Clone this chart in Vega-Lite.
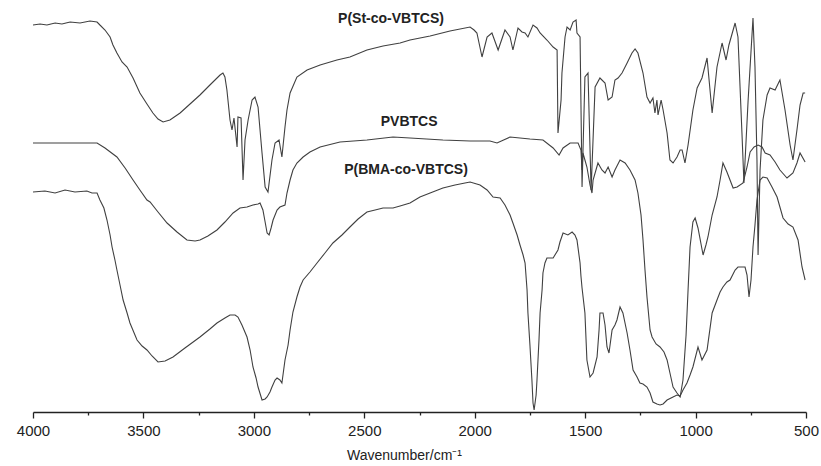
{
"$schema": "https://vega.github.io/schema/vega-lite/v6.json",
"width": 773, "height": 412,
"autosize": {"type": "none"},
"padding": {"left": 33, "top": 0, "right": 15, "bottom": 54},
"background": "white",
"config": {"view": {"stroke": null}},
"datasets": {
"spectra": [
{"s":"St","w":4000,"t":387},{"s":"St","w":3968,"t":388},{"s":"St","w":3937,"t":387},{"s":"St","w":3900,"t":389},{"s":"St","w":3869,"t":388},{"s":"St","w":3832,"t":390},{"s":"St","w":3787,"t":389},{"s":"St","w":3742,"t":391},{"s":"St","w":3710,"t":390},{"s":"St","w":3697,"t":387},{"s":"St","w":3674,"t":382},{"s":"St","w":3651,"t":375},{"s":"St","w":3638,"t":367},{"s":"St","w":3620,"t":359},{"s":"St","w":3597,"t":350},{"s":"St","w":3574,"t":345},{"s":"St","w":3547,"t":334},{"s":"St","w":3516,"t":319},{"s":"St","w":3484,"t":308},{"s":"St","w":3457,"t":299},{"s":"St","w":3434,"t":293},{"s":"St","w":3411,"t":290},{"s":"St","w":3380,"t":292},{"s":"St","w":3334,"t":299},{"s":"St","w":3289,"t":308},{"s":"St","w":3244,"t":317},{"s":"St","w":3199,"t":327},{"s":"St","w":3153,"t":337},{"s":"St","w":3140,"t":339},{"s":"St","w":3131,"t":335},{"s":"St","w":3122,"t":322},{"s":"St","w":3108,"t":292},{"s":"St","w":3099,"t":282},{"s":"St","w":3090,"t":294},{"s":"St","w":3076,"t":265},{"s":"St","w":3072,"t":295},{"s":"St","w":3058,"t":294},{"s":"St","w":3049,"t":232},{"s":"St","w":3040,"t":272},{"s":"St","w":3026,"t":292},{"s":"St","w":3008,"t":312},{"s":"St","w":2995,"t":315},{"s":"St","w":2981,"t":305},{"s":"St","w":2963,"t":259},{"s":"St","w":2949,"t":225},{"s":"St","w":2936,"t":220},{"s":"St","w":2918,"t":252},{"s":"St","w":2904,"t":269},{"s":"St","w":2886,"t":272},{"s":"St","w":2873,"t":255},{"s":"St","w":2859,"t":285},{"s":"St","w":2850,"t":302},{"s":"St","w":2836,"t":319},{"s":"St","w":2805,"t":335},{"s":"St","w":2759,"t":342},{"s":"St","w":2700,"t":347},{"s":"St","w":2624,"t":352},{"s":"St","w":2565,"t":355},{"s":"St","w":2488,"t":362},{"s":"St","w":2415,"t":366},{"s":"St","w":2338,"t":369},{"s":"St","w":2293,"t":372},{"s":"St","w":2202,"t":376},{"s":"St","w":2112,"t":381},{"s":"St","w":2021,"t":385},{"s":"St","w":2003,"t":382},{"s":"St","w":1990,"t":379},{"s":"St","w":1967,"t":355},{"s":"St","w":1944,"t":375},{"s":"St","w":1922,"t":379},{"s":"St","w":1894,"t":362},{"s":"St","w":1863,"t":382},{"s":"St","w":1840,"t":375},{"s":"St","w":1827,"t":362},{"s":"St","w":1804,"t":384},{"s":"St","w":1786,"t":380},{"s":"St","w":1772,"t":379},{"s":"St","w":1759,"t":375},{"s":"St","w":1736,"t":387},{"s":"St","w":1718,"t":384},{"s":"St","w":1704,"t":379},{"s":"St","w":1673,"t":372},{"s":"St","w":1645,"t":365},{"s":"St","w":1627,"t":362},{"s":"St","w":1623,"t":279},{"s":"St","w":1609,"t":312},{"s":"St","w":1605,"t":339},{"s":"St","w":1591,"t":375},{"s":"St","w":1582,"t":385},{"s":"St","w":1568,"t":382},{"s":"St","w":1555,"t":390},{"s":"St","w":1541,"t":392},{"s":"St","w":1537,"t":379},{"s":"St","w":1523,"t":375},{"s":"St","w":1514,"t":225},{"s":"St","w":1501,"t":335},{"s":"St","w":1487,"t":339},{"s":"St","w":1473,"t":222},{"s":"St","w":1455,"t":325},{"s":"St","w":1433,"t":334},{"s":"St","w":1410,"t":329},{"s":"St","w":1396,"t":312},{"s":"St","w":1378,"t":315},{"s":"St","w":1365,"t":332},{"s":"St","w":1351,"t":334},{"s":"St","w":1333,"t":339},{"s":"St","w":1310,"t":349},{"s":"St","w":1288,"t":359},{"s":"St","w":1274,"t":363},{"s":"St","w":1261,"t":359},{"s":"St","w":1238,"t":339},{"s":"St","w":1220,"t":315},{"s":"St","w":1206,"t":309},{"s":"St","w":1193,"t":314},{"s":"St","w":1184,"t":299},{"s":"St","w":1175,"t":312},{"s":"St","w":1170,"t":297},{"s":"St","w":1156,"t":312},{"s":"St","w":1147,"t":302},{"s":"St","w":1129,"t":279},{"s":"St","w":1116,"t":252},{"s":"St","w":1102,"t":249},{"s":"St","w":1084,"t":255},{"s":"St","w":1070,"t":262},{"s":"St","w":1061,"t":262},{"s":"St","w":1048,"t":249},{"s":"St","w":1034,"t":267},{"s":"St","w":1012,"t":302},{"s":"St","w":993,"t":324},{"s":"St","w":971,"t":334},{"s":"St","w":948,"t":354},{"s":"St","w":925,"t":299},{"s":"St","w":903,"t":345},{"s":"St","w":880,"t":369},{"s":"St","w":862,"t":352},{"s":"St","w":849,"t":367},{"s":"St","w":821,"t":389},{"s":"St","w":808,"t":375},{"s":"St","w":790,"t":279},{"s":"St","w":781,"t":229},{"s":"St","w":762,"t":312},{"s":"St","w":740,"t":394},{"s":"St","w":731,"t":345},{"s":"St","w":722,"t":252},{"s":"St","w":717,"t":157},{"s":"St","w":708,"t":242},{"s":"St","w":695,"t":292},{"s":"St","w":676,"t":317},{"s":"St","w":663,"t":324},{"s":"St","w":640,"t":322},{"s":"St","w":618,"t":332},{"s":"St","w":595,"t":302},{"s":"St","w":572,"t":267},{"s":"St","w":559,"t":252},{"s":"St","w":541,"t":282},{"s":"St","w":527,"t":307},{"s":"St","w":513,"t":319},{"s":"St","w":504,"t":319},
{"s":"PV","w":4000,"t":269},{"s":"PV","w":3878,"t":269},{"s":"PV","w":3787,"t":269},{"s":"PV","w":3710,"t":269},{"s":"PV","w":3674,"t":264},{"s":"PV","w":3620,"t":255},{"s":"PV","w":3583,"t":244},{"s":"PV","w":3547,"t":232},{"s":"PV","w":3516,"t":222},{"s":"PV","w":3484,"t":212},{"s":"PV","w":3470,"t":210},{"s":"PV","w":3434,"t":200},{"s":"PV","w":3393,"t":189},{"s":"PV","w":3348,"t":180},{"s":"PV","w":3303,"t":172},{"s":"PV","w":3266,"t":171},{"s":"PV","w":3244,"t":172},{"s":"PV","w":3208,"t":176},{"s":"PV","w":3167,"t":182},{"s":"PV","w":3131,"t":190},{"s":"PV","w":3094,"t":199},{"s":"PV","w":3063,"t":204},{"s":"PV","w":3031,"t":205},{"s":"PV","w":3004,"t":207},{"s":"PV","w":2981,"t":208},{"s":"PV","w":2972,"t":209},{"s":"PV","w":2959,"t":202},{"s":"PV","w":2949,"t":190},{"s":"PV","w":2940,"t":179},{"s":"PV","w":2931,"t":177},{"s":"PV","w":2922,"t":184},{"s":"PV","w":2913,"t":192},{"s":"PV","w":2895,"t":202},{"s":"PV","w":2882,"t":205},{"s":"PV","w":2859,"t":207},{"s":"PV","w":2850,"t":219},{"s":"PV","w":2836,"t":232},{"s":"PV","w":2823,"t":242},{"s":"PV","w":2805,"t":249},{"s":"PV","w":2777,"t":255},{"s":"PV","w":2746,"t":260},{"s":"PV","w":2700,"t":265},{"s":"PV","w":2610,"t":270},{"s":"PV","w":2488,"t":272},{"s":"PV","w":2370,"t":275},{"s":"PV","w":2293,"t":274},{"s":"PV","w":2144,"t":272},{"s":"PV","w":2021,"t":271},{"s":"PV","w":1931,"t":271},{"s":"PV","w":1899,"t":269},{"s":"PV","w":1840,"t":275},{"s":"PV","w":1750,"t":273},{"s":"PV","w":1691,"t":272},{"s":"PV","w":1645,"t":264},{"s":"PV","w":1618,"t":257},{"s":"PV","w":1600,"t":264},{"s":"PV","w":1568,"t":269},{"s":"PV","w":1532,"t":269},{"s":"PV","w":1519,"t":262},{"s":"PV","w":1514,"t":242},{"s":"PV","w":1510,"t":259},{"s":"PV","w":1501,"t":252},{"s":"PV","w":1492,"t":245},{"s":"PV","w":1478,"t":227},{"s":"PV","w":1469,"t":219},{"s":"PV","w":1464,"t":232},{"s":"PV","w":1442,"t":249},{"s":"PV","w":1424,"t":242},{"s":"PV","w":1410,"t":239},{"s":"PV","w":1396,"t":245},{"s":"PV","w":1378,"t":235},{"s":"PV","w":1365,"t":242},{"s":"PV","w":1342,"t":252},{"s":"PV","w":1319,"t":249},{"s":"PV","w":1297,"t":242},{"s":"PV","w":1274,"t":232},{"s":"PV","w":1261,"t":219},{"s":"PV","w":1247,"t":197},{"s":"PV","w":1238,"t":172},{"s":"PV","w":1229,"t":142},{"s":"PV","w":1220,"t":115},{"s":"PV","w":1206,"t":82},{"s":"PV","w":1197,"t":75},{"s":"PV","w":1179,"t":68},{"s":"PV","w":1161,"t":65},{"s":"PV","w":1143,"t":60},{"s":"PV","w":1129,"t":52},{"s":"PV","w":1116,"t":39},{"s":"PV","w":1102,"t":25},{"s":"PV","w":1084,"t":19},{"s":"PV","w":1070,"t":15},{"s":"PV","w":1057,"t":32},{"s":"PV","w":1043,"t":77},{"s":"PV","w":1034,"t":122},{"s":"PV","w":1025,"t":165},{"s":"PV","w":1012,"t":190},{"s":"PV","w":1002,"t":194},{"s":"PV","w":989,"t":184},{"s":"PV","w":966,"t":157},{"s":"PV","w":953,"t":167},{"s":"PV","w":944,"t":175},{"s":"PV","w":925,"t":197},{"s":"PV","w":903,"t":215},{"s":"PV","w":889,"t":232},{"s":"PV","w":876,"t":249},{"s":"PV","w":858,"t":240},{"s":"PV","w":830,"t":224},{"s":"PV","w":812,"t":225},{"s":"PV","w":785,"t":229},{"s":"PV","w":767,"t":245},{"s":"PV","w":753,"t":260},{"s":"PV","w":735,"t":265},{"s":"PV","w":717,"t":267},{"s":"PV","w":699,"t":265},{"s":"PV","w":685,"t":259},{"s":"PV","w":663,"t":257},{"s":"PV","w":640,"t":250},{"s":"PV","w":618,"t":242},{"s":"PV","w":586,"t":234},{"s":"PV","w":559,"t":239},{"s":"PV","w":541,"t":249},{"s":"PV","w":527,"t":259},{"s":"PV","w":504,"t":250},
{"s":"BMA","w":4000,"t":220},{"s":"BMA","w":3946,"t":221},{"s":"BMA","w":3900,"t":219},{"s":"BMA","w":3855,"t":222},{"s":"BMA","w":3810,"t":220},{"s":"BMA","w":3756,"t":221},{"s":"BMA","w":3733,"t":219},{"s":"BMA","w":3710,"t":219},{"s":"BMA","w":3697,"t":212},{"s":"BMA","w":3679,"t":204},{"s":"BMA","w":3665,"t":192},{"s":"BMA","w":3651,"t":177},{"s":"BMA","w":3642,"t":165},{"s":"BMA","w":3629,"t":152},{"s":"BMA","w":3620,"t":142},{"s":"BMA","w":3606,"t":127},{"s":"BMA","w":3592,"t":112},{"s":"BMA","w":3574,"t":99},{"s":"BMA","w":3561,"t":89},{"s":"BMA","w":3529,"t":72},{"s":"BMA","w":3506,"t":66},{"s":"BMA","w":3484,"t":62},{"s":"BMA","w":3461,"t":56},{"s":"BMA","w":3434,"t":50},{"s":"BMA","w":3402,"t":51},{"s":"BMA","w":3366,"t":55},{"s":"BMA","w":3312,"t":64},{"s":"BMA","w":3244,"t":75},{"s":"BMA","w":3199,"t":83},{"s":"BMA","w":3167,"t":89},{"s":"BMA","w":3131,"t":94},{"s":"BMA","w":3108,"t":97},{"s":"BMA","w":3085,"t":97},{"s":"BMA","w":3072,"t":95},{"s":"BMA","w":3054,"t":87},{"s":"BMA","w":3031,"t":75},{"s":"BMA","w":3017,"t":62},{"s":"BMA","w":3004,"t":45},{"s":"BMA","w":2990,"t":34},{"s":"BMA","w":2981,"t":25},{"s":"BMA","w":2963,"t":12},{"s":"BMA","w":2949,"t":13},{"s":"BMA","w":2940,"t":15},{"s":"BMA","w":2927,"t":20},{"s":"BMA","w":2918,"t":25},{"s":"BMA","w":2904,"t":32},{"s":"BMA","w":2895,"t":34},{"s":"BMA","w":2882,"t":32},{"s":"BMA","w":2873,"t":29},{"s":"BMA","w":2859,"t":52},{"s":"BMA","w":2845,"t":67},{"s":"BMA","w":2836,"t":82},{"s":"BMA","w":2823,"t":100},{"s":"BMA","w":2805,"t":115},{"s":"BMA","w":2791,"t":125},{"s":"BMA","w":2777,"t":132},{"s":"BMA","w":2746,"t":140},{"s":"BMA","w":2714,"t":149},{"s":"BMA","w":2678,"t":159},{"s":"BMA","w":2642,"t":169},{"s":"BMA","w":2601,"t":177},{"s":"BMA","w":2565,"t":185},{"s":"BMA","w":2528,"t":193},{"s":"BMA","w":2488,"t":200},{"s":"BMA","w":2451,"t":202},{"s":"BMA","w":2415,"t":204},{"s":"BMA","w":2370,"t":204},{"s":"BMA","w":2338,"t":206},{"s":"BMA","w":2293,"t":209},{"s":"BMA","w":2248,"t":215},{"s":"BMA","w":2202,"t":219},{"s":"BMA","w":2144,"t":224},{"s":"BMA","w":2089,"t":227},{"s":"BMA","w":2044,"t":229},{"s":"BMA","w":2021,"t":230},{"s":"BMA","w":1976,"t":227},{"s":"BMA","w":1944,"t":222},{"s":"BMA","w":1917,"t":215},{"s":"BMA","w":1885,"t":214},{"s":"BMA","w":1863,"t":207},{"s":"BMA","w":1840,"t":197},{"s":"BMA","w":1827,"t":189},{"s":"BMA","w":1808,"t":177},{"s":"BMA","w":1795,"t":167},{"s":"BMA","w":1781,"t":157},{"s":"BMA","w":1772,"t":149},{"s":"BMA","w":1763,"t":122},{"s":"BMA","w":1759,"t":99},{"s":"BMA","w":1750,"t":67},{"s":"BMA","w":1741,"t":32},{"s":"BMA","w":1736,"t":9},{"s":"BMA","w":1731,"t":2},{"s":"BMA","w":1722,"t":17},{"s":"BMA","w":1718,"t":32},{"s":"BMA","w":1709,"t":72},{"s":"BMA","w":1704,"t":99},{"s":"BMA","w":1695,"t":122},{"s":"BMA","w":1691,"t":139},{"s":"BMA","w":1682,"t":149},{"s":"BMA","w":1673,"t":154},{"s":"BMA","w":1645,"t":154},{"s":"BMA","w":1623,"t":162},{"s":"BMA","w":1614,"t":170},{"s":"BMA","w":1600,"t":179},{"s":"BMA","w":1578,"t":177},{"s":"BMA","w":1559,"t":180},{"s":"BMA","w":1546,"t":177},{"s":"BMA","w":1537,"t":172},{"s":"BMA","w":1523,"t":149},{"s":"BMA","w":1519,"t":136},{"s":"BMA","w":1514,"t":124},{"s":"BMA","w":1501,"t":99},{"s":"BMA","w":1492,"t":52},{"s":"BMA","w":1478,"t":35},{"s":"BMA","w":1464,"t":39},{"s":"BMA","w":1446,"t":55},{"s":"BMA","w":1437,"t":82},{"s":"BMA","w":1433,"t":99},{"s":"BMA","w":1419,"t":99},{"s":"BMA","w":1410,"t":87},{"s":"BMA","w":1401,"t":65},{"s":"BMA","w":1392,"t":59},{"s":"BMA","w":1378,"t":82},{"s":"BMA","w":1365,"t":87},{"s":"BMA","w":1356,"t":92},{"s":"BMA","w":1342,"t":105},{"s":"BMA","w":1329,"t":99},{"s":"BMA","w":1310,"t":79},{"s":"BMA","w":1297,"t":62},{"s":"BMA","w":1283,"t":42},{"s":"BMA","w":1265,"t":35},{"s":"BMA","w":1252,"t":29},{"s":"BMA","w":1238,"t":28},{"s":"BMA","w":1220,"t":25},{"s":"BMA","w":1206,"t":19},{"s":"BMA","w":1193,"t":10},{"s":"BMA","w":1175,"t":8},{"s":"BMA","w":1161,"t":7},{"s":"BMA","w":1147,"t":8},{"s":"BMA","w":1129,"t":12},{"s":"BMA","w":1102,"t":15},{"s":"BMA","w":1084,"t":17},{"s":"BMA","w":1070,"t":16},{"s":"BMA","w":1057,"t":22},{"s":"BMA","w":1039,"t":29},{"s":"BMA","w":1025,"t":37},{"s":"BMA","w":1012,"t":45},{"s":"BMA","w":989,"t":65},{"s":"BMA","w":971,"t":52},{"s":"BMA","w":948,"t":62},{"s":"BMA","w":925,"t":99},{"s":"BMA","w":903,"t":112},{"s":"BMA","w":889,"t":120},{"s":"BMA","w":876,"t":125},{"s":"BMA","w":858,"t":130},{"s":"BMA","w":844,"t":132},{"s":"BMA","w":821,"t":142},{"s":"BMA","w":808,"t":145},{"s":"BMA","w":776,"t":145},{"s":"BMA","w":767,"t":137},{"s":"BMA","w":758,"t":115},{"s":"BMA","w":749,"t":132},{"s":"BMA","w":740,"t":165},{"s":"BMA","w":731,"t":187},{"s":"BMA","w":722,"t":212},{"s":"BMA","w":708,"t":232},{"s":"BMA","w":695,"t":235},{"s":"BMA","w":676,"t":234},{"s":"BMA","w":654,"t":225},{"s":"BMA","w":631,"t":215},{"s":"BMA","w":604,"t":194},{"s":"BMA","w":581,"t":188},{"s":"BMA","w":559,"t":185},{"s":"BMA","w":536,"t":172},{"s":"BMA","w":518,"t":145},{"s":"BMA","w":504,"t":132}
],
"labels": [
{"label":"P(St-co-VBTCS)","w":2379,"t":393},
{"label":"PVBTCS","w":2297,"t":290},
{"label":"P(BMA-co-VBTCS)","w":2311,"t":242}
]
},
"layer": [
{
"data": {"name": "spectra"},
"mark": {"type": "line", "strokeWidth": 1.1, "color": "#404040", "interpolate": "linear", "clip": false},
"encoding": {
"x": {"field": "w", "type": "quantitative",
"scale": {"domain": [500, 4000], "reverse": true, "nice": false, "zero": false},
"axis": {
"values": [4000,3750,3500,3250,3000,2750,2500,2250,2000,1750,1500,1250,1000,750,500],
"format": "d",
"labelExpr": "datum.value % 500 === 0 ? datum.label : ''",
"tickSize": {"condition": {"test": "datum.value % 500 === 0", "value": 6}, "value": 3},
"tickColor": "#222", "tickWidth": 1.3,
"domainColor": "#222", "domainWidth": 1.4,
"grid": false,
"labelFont": "Liberation Sans", "labelFontSize": 15, "labelColor": "#222", "labelPadding": 5,
"labelFlush": false, "labelOverlap": false,
"title": "Wavenumber/cm⁻¹",
"titleFont": "Liberation Sans", "titleFontSize": 14, "titleFontWeight": "normal", "titleColor": "#222", "titlePadding": 10,
"titleX": 371
}
},
"y": {"field": "t", "type": "quantitative", "scale": {"domain": [0, 412], "nice": false, "zero": false}, "axis": null},
"detail": {"field": "s"}
}
},
{
"data": {"name": "labels"},
"mark": {"type": "text", "font": "Liberation Sans", "fontWeight": "bold", "fontSize": 14, "color": "#222", "align": "center", "baseline": "middle"},
"encoding": {
"x": {"field": "w", "type": "quantitative"},
"y": {"field": "t", "type": "quantitative"},
"text": {"field": "label"}
}
}
]
}
